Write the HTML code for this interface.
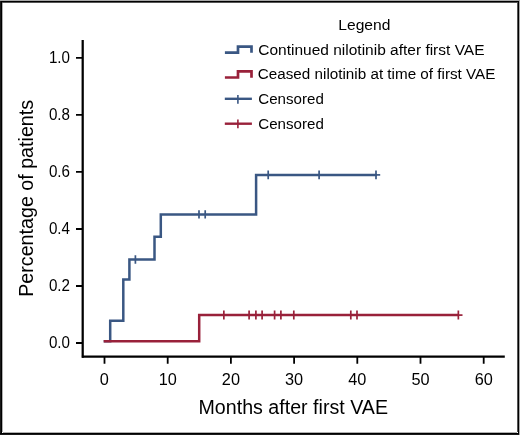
<!DOCTYPE html>
<html><head><meta charset="utf-8"><style>
html,body{margin:0;padding:0;background:#fff;width:520px;height:435px;overflow:hidden}
svg{display:block;will-change:transform}
text{font-family:"Liberation Sans",sans-serif;fill:#000}
</style></head><body>
<svg width="520" height="435" viewBox="0 0 520 435">
<rect x="0" y="0" width="520" height="435" fill="#fff"/>
<g shape-rendering="crispEdges">
<rect x="0" y="0" width="520" height="1" fill="#a8a8a8"/>
<rect x="519" y="0" width="1" height="435" fill="#a8a8a8"/>
<rect x="2" y="2" width="516" height="1" fill="#555"/>
<rect x="2" y="3" width="1" height="429" fill="#b0b0b0"/>
<rect x="517" y="3" width="1" height="429" fill="#555"/>
<rect x="3" y="432" width="514" height="1" fill="#b0b0b0"/>
<rect x="0" y="1" width="519" height="1" fill="#000"/>
<rect x="0" y="1" width="1" height="434" fill="#181818"/>
<rect x="1" y="1" width="1" height="433" fill="#000"/>
<rect x="518" y="1" width="1" height="433" fill="#000"/>
<rect x="0" y="433" width="519" height="1" fill="#000"/>
<rect x="0" y="434" width="519" height="1" fill="#1a1a1a"/>
</g>

<!-- axes -->
<g stroke="#000" fill="none">
<path d="M82.7 40V357.7" stroke-width="2.25"/>
<path d="M81.9 356.6H504.8" stroke-width="2.2"/>
<path d="M76 343H83M76 286H83M76 229H83M76 171.9H83M76 114.8H83M76 57.8H83" stroke-width="1.8"/>
<path d="M104.5 357H104.5V363.8M167.7 357V363.8M230.9 357V363.8M294.1 357V363.8M357.3 357V363.8M420.5 357V363.8M483.7 357V363.8" stroke-width="1.8"/>
</g>

<!-- y tick labels -->
<g font-size="16.3" text-anchor="end">
<text x="70" y="348" textLength="21.1" lengthAdjust="spacingAndGlyphs">0.0</text>
<text x="70" y="291" textLength="21.1" lengthAdjust="spacingAndGlyphs">0.2</text>
<text x="70" y="234" textLength="21.1" lengthAdjust="spacingAndGlyphs">0.4</text>
<text x="70" y="177" textLength="21.1" lengthAdjust="spacingAndGlyphs">0.6</text>
<text x="70" y="120" textLength="21.1" lengthAdjust="spacingAndGlyphs">0.8</text>
<text x="70" y="63" textLength="21.1" lengthAdjust="spacingAndGlyphs">1.0</text>
</g>
<!-- x tick labels -->
<g font-size="16.3" text-anchor="middle">
<text x="104.3" y="385.3">0</text>
<text x="167.7" y="385.3">10</text>
<text x="230.9" y="385.3">20</text>
<text x="294.1" y="385.3">30</text>
<text x="357.3" y="385.3">40</text>
<text x="420.5" y="385.3">50</text>
<text x="483.7" y="385.3">60</text>
</g>

<text x="198.5" y="413.6" font-size="20" textLength="189.5" lengthAdjust="spacingAndGlyphs">Months after first VAE</text>
<text transform="translate(33,296.8) rotate(-90)" x="0" y="0" font-size="20" textLength="196.9" lengthAdjust="spacingAndGlyphs">Percentage of patients</text>

<!-- data -->
<g fill="none" stroke-linejoin="miter" stroke-linecap="butt">
<path d="M103.7 341.2H110.2V320.8H123.3V279.5H129.4V259.6H154.5V236.7H160.8V214.5H256.1V174.9H377" stroke="#3a5783" stroke-width="2.5"/>
<path d="M377 174.9H380.2" stroke="#3a5783" stroke-width="1.7"/>
<path d="M135.4 255.2V263.8M199 210.2V218.6M205.2 210.2V218.6M268.2 170.5V179.2M319.1 170.5V179.2M376 170.5V179.2" stroke="#3a5783" stroke-width="1.7"/>
<path d="M103.7 341.2H199.2V315.1H459" stroke="#99213a" stroke-width="2.5"/>
<path d="M459 315.1H462.5" stroke="#99213a" stroke-width="1.7"/>
<path d="M223.85 310.6V319.4M249.1 310.6V319.4M255.9 310.6V319.4M262.1 310.6V319.4M274.6 310.6V319.4M280.9 310.6V319.4M293.8 310.6V319.4M350.8 310.6V319.4M357 310.6V319.4M458.35 310.6V319.4" stroke="#99213a" stroke-width="1.7"/>
</g>

<!-- legend -->
<text x="338.3" y="29.7" font-size="15" textLength="52.1" lengthAdjust="spacingAndGlyphs">Legend</text>
<g fill="none">
<path d="M224.9 52.6H238V46.55H251.5V52.75" stroke="#3a5783" stroke-width="2.7"/>
<path d="M224.9 77.5H238V71.4H251.5V77.7" stroke="#99213a" stroke-width="2.7"/>
<path d="M224.8 98.8H251.9" stroke="#3a5783" stroke-width="2.4"/>
<path d="M237.9 94.9V103.7" stroke="#3a5783" stroke-width="1.6"/>
<path d="M224.8 123.7H251.9" stroke="#99213a" stroke-width="2.4"/>
<path d="M237.9 119.4V128.3" stroke="#99213a" stroke-width="1.6"/>
</g>
<g font-size="15.5">
<text x="258.3" y="54.5" textLength="226.2" lengthAdjust="spacingAndGlyphs">Continued nilotinib after first VAE</text>
<text x="257.8" y="79.2" textLength="237.6" lengthAdjust="spacingAndGlyphs">Ceased nilotinib at time of first VAE</text>
<text x="258.3" y="104" textLength="65.5" lengthAdjust="spacingAndGlyphs">Censored</text>
<text x="258.3" y="128.9" textLength="65.5" lengthAdjust="spacingAndGlyphs">Censored</text>
</g>
</svg>
</body></html>
